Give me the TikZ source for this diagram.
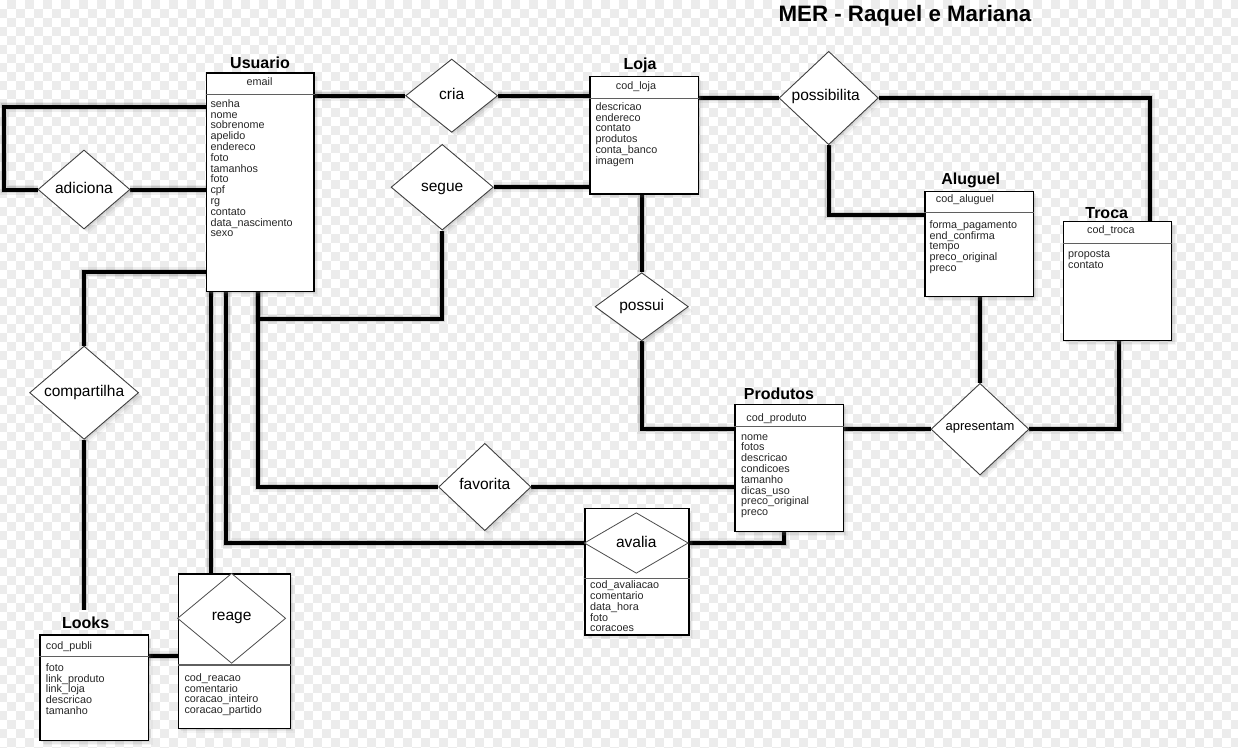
\documentclass[tikz,border=0pt]{standalone}
\usepackage{fontspec}
\setmainfont{Liberation Sans}
\usetikzlibrary{shapes.geometric,shadows,calc}
\pgfdeclarelayer{bg}
\pgfsetlayers{bg,main}
\definecolor{chk}{RGB}{236,236,236}
\definecolor{dline}{RGB}{95,95,95}
\newcommand\hs{\rule{0pt}{8pt}}
\tikzset{
 softshadow/.style={
   drop shadow={shadow xshift=1.5pt,shadow yshift=-1.5pt,opacity=.16},
   drop shadow={shadow xshift=3pt,shadow yshift=-3pt,opacity=.12},
   drop shadow={shadow xshift=4.5pt,shadow yshift=-4.5pt,opacity=.07}},
 ebox/.style={draw=black, line width=1.2pt, fill=white, rectangle, inner sep=0pt, anchor=north west, softshadow},
 rel/.style={diamond, draw=black!75, line width=0.9pt, fill=white, inner sep=0pt, softshadow},
 irel/.style={diamond, draw=black!70, line width=0.8pt, fill=white, inner sep=0pt},
 conn/.style={line width=4pt, black, line join=miter},
 csh1/.style={line width=10pt, black, opacity=.06, line join=miter},
 csh2/.style={line width=6.5pt, black, opacity=.12, line join=miter},
 ttl/.style={font=\bfseries\fontsize{16}{16}\selectfont, inner sep=0pt, text height=11.5pt, text depth=0pt},
 rlab/.style={font=\fontsize{15.5}{15.5}\selectfont, inner sep=0pt, text height=11.2pt, text depth=3.2pt},
 attr/.style={font=\fontsize{10.8}{10.8}\selectfont, align=left, inner sep=0pt, anchor=north west, text=black!85},
 hdr/.style={font=\fontsize{10.8}{10.8}\selectfont, inner sep=0pt, anchor=base, text=black!85},
 div/.style={draw=dline, line width=1.5pt},
}
\begin{document}
\begin{tikzpicture}[x=1pt,y=-1pt]
\useasboundingbox (0,0) rectangle (1238,747);

% title
\node[font=\bfseries\fontsize{22.3}{22.3}\selectfont, inner sep=0pt, text height=16pt, text depth=0pt] (title) at (905,13.5) {MER - Raquel e Mariana};

% entity boxes
\node[ebox, minimum width=107.6pt, minimum height=218.4pt] (usu) at (205.7,72.3) {};
\node[ebox, minimum width=108.4pt, minimum height=117.3pt] (loja) at (589.3,76) {};
\node[ebox, minimum width=108.4pt, minimum height=105.3pt] (alu) at (924.3,190.7) {};
\node[ebox, minimum width=108.3pt, minimum height=119pt] (troca) at (1062.7,221) {};
\node[ebox, minimum width=108.4pt, minimum height=127.3pt] (prod) at (734.3,403.7) {};
\node[ebox, minimum width=108.2pt, minimum height=105.7pt] (looks) at (39.3,634.3) {};
\node[ebox, minimum width=112.1pt, minimum height=154.4pt] (rgbox) at (177.5,573.3) {};
\node[ebox, minimum width=104pt, minimum height=126.6pt] (avbox) at (584.3,507.7) {};

% dividers
\draw[div] ($(usu.north west)+(0,22)$) -- ($(usu.north east)+(0,22)$);
\draw[div] ($(loja.north west)+(0,22.3)$) -- ($(loja.north east)+(0,22.3)$);
\draw[div] ($(alu.north west)+(0,22)$) -- ($(alu.north east)+(0,22)$);
\draw[div] ($(troca.north west)+(0,22.3)$) -- ($(troca.north east)+(0,22.3)$);
\draw[div] ($(prod.north west)+(0,23)$) -- ($(prod.north east)+(0,23)$);
\draw[div] ($(looks.north west)+(0,22.4)$) -- ($(looks.north east)+(0,22.4)$);
\draw[div] ($(rgbox.north west)+(0,91.7)$) -- ($(rgbox.north east)+(0,91.7)$);
\draw[div] ($(avbox.north west)+(0,70.6)$) -- ($(avbox.north east)+(0,70.6)$);

% relationship diamonds
\node[rel, minimum width=92pt, minimum height=73.3pt] (cria) at (451.7,95.7) {};
\node[rel, minimum width=102.3pt, minimum height=85.7pt] (segue) at (442.2,187.2) {};
\node[rel, minimum width=92pt, minimum height=79pt] (adic) at (84,189.5) {};
\node[rel, minimum width=99.3pt, minimum height=93.4pt] (poss) at (828.7,98) {};
\node[rel, minimum width=93.3pt, minimum height=68pt] (possui) at (641.7,306.7) {};
\node[rel, minimum width=98pt, minimum height=91.7pt] (apr) at (980,429.2) {};
\node[rel, minimum width=92.4pt, minimum height=87.4pt] (fav) at (484.8,487) {};
\node[rel, minimum width=109pt, minimum height=93.3pt] (comp) at (84.1,392.7) {};
\node[irel, minimum width=104pt, minimum height=60.6pt] (avd) at (636.3,543) {};
\node[irel, minimum width=108.2pt, minimum height=90pt] (rgd) at (231.6,618.3) {};

% relationship labels
\node[rlab] (criaL) at (cria) {cria};
\node[rlab] (segueL) at (segue) {segue};
\node[rlab] (adicL) at (adic) {adiciona};
\node[rlab, xshift=-3pt, yshift=1.5pt] (possL) at (poss) {possibilita};
\node[rlab] (possuiL) at (possui) {possui};
\node[rlab, font=\fontsize{13}{13}\selectfont, text height=9.4pt, text depth=2.7pt, yshift=2pt] (aprL) at (apr) {apresentam};
\node[rlab, yshift=2pt] (favL) at (fav) {favorita};
\node[rlab] (compL) at (comp) {compartilha};
\node[rlab] (avL) at (avd) {avalia};
\node[rlab, yshift=1.5pt] (rgL) at (rgd) {reage};

% entity titles
\node[ttl] (usuT) at (260,63) {Usuario};
\node[ttl] (lojaT) at (640,64) {Loja};
\node[ttl] (aluT) at (970.7,179) {Aluguel};
\node[ttl] (trocaT) at (1106.7,212.3) {Troca};
\node[ttl] (prodT) at (779,394) {Produtos};
\node[ttl] (lkT) at (85.7,622.7) {Looks};

% headers
\node[hdr] (usuH) at (259.6,85.8) {email};
\node[hdr] (lojaH) at (636,89.5) {cod\_loja};
\node[hdr] (aluH) at (965,202.1) {cod\_aluguel};
\node[hdr] (trocaH) at (1110.8,233.5) {cod\_troca};
\node[hdr] (prodH) at (776.5,421.8) {cod\_produto};
\node[hdr, anchor=base west] (lkH) at (45.7,649.5) {cod\_publi};

% attributes
\node[attr] (usuA) at (210.3,99.1) {\hs senha\\nome\\sobrenome\\apelido\\endereco\\foto\\tamanhos\\foto\\cpf\\rg\\contato\\data\_nascimento\\sexo};
\node[attr] (lojaA) at (595.3,102.1) {\hs descricao\\endereco\\contato\\produtos\\conta\_banco\\imagem};
\node[attr] (aluA) at (929.3,220.1) {\hs forma\_pagamento\\end\_confirma\\tempo\\preco\_original\\preco};
\node[attr] (trocaA) at (1068,249.1) {\hs proposta\\contato};
\node[attr] (prodA) at (741,431.8) {\hs nome\\fotos\\descricao\\condicoes\\tamanho\\dicas\_uso\\preco\_original\\preco};
\node[attr] (avA) at (590,580.5) {\hs cod\_avaliacao\\comentario\\data\_hora\\foto\\coracoes};
\node[attr] (lkA) at (45.7,663.1) {\hs foto\\link\_produto\\link\_loja\\descricao\\tamanho};
\node[attr] (rgA) at (184.3,673.1) {\hs cod\_reacao\\comentario\\coracao\_inteiro\\coracao\_partido};

% background and connectors
\begin{pgfonlayer}{bg}
\foreach \j in {0,...,83}{
  \pgfmathtruncatemacro\shft{mod(\j+1,2)}
  \foreach \k in {0,...,68}{
    \fill[chk] ({7.3+9*(2*\k+\shft-1)},{max(0,8.7+9*(\j-1))}) rectangle ({7.3+9*(2*\k+\shft)},{min(747,8.7+9*\j)});
  }
}
\coordinate (ufav) at ($(usu.south west)+(52.3,0)$);
\coordinate (uav) at ($(usu.south west)+(20.7,0)$);
\coordinate (urg) at ($(usu.south west)+(5,0)$);
\foreach \st/\dx/\dy in {csh1/2/3, csh2/2/3, conn/0/0}{
\begin{scope}[shift={(\dx,\dy)}]
\draw[\st] (usu.east |- cria.west) -- (cria.west);
\draw[\st] (cria.east) -- (cria.east -| loja.west);
\draw[\st] (loja.east |- poss.west) -- (poss.west);
\draw[\st] (poss.east) -| ($(troca.north east)+(-22,0)$);
\draw[\st] (poss.south) |- ($(alu.north west)+(0,24.3)$);
\draw[\st] ($(usu.north west)+(0,34.4)$) -- ++(-201.7,0) |- (adic.west);
\draw[\st] (adic.east) -- (adic.east -| usu.west);
\draw[\st] (segue.east) -- (segue.east -| loja.west);
\draw[\st] (segue.south) |- ($(ufav)+(0,27)$) -- (ufav);
\draw[\st] (fav.west) -| (ufav);
\draw[\st] (fav.east) -- (fav.east -| prod.west);
\draw[\st] (uav) |- (avd.west);
\draw[\st] (avd.east) -| ($(prod.south west)+(49.7,0)$);
\draw[\st] (urg) -- (urg |- rgbox.north);
\draw[\st] ($(looks.north east)+(0,21.7)$) coordinate (lk) -- (lk -| rgbox.west);
\draw[\st] ($(usu.north west)+(0,200)$) -| (comp.north);
\draw[\st] (comp.south) -- ($(comp.south |- lkT.north)+(0,-7)$);
\draw[\st] (loja.south -| possui.north) -- (possui.north);
\draw[\st] (possui.south) |- (prod.west |- apr.west);
\draw[\st] (prod.east |- apr.west) -- (apr.west);
\draw[\st] (apr.north) -- (apr.north |- alu.south);
\draw[\st] (apr.east) -| ($(troca.south west)+(56,0)$);
\end{scope}
}
\end{pgfonlayer}
\end{tikzpicture}
\end{document}
